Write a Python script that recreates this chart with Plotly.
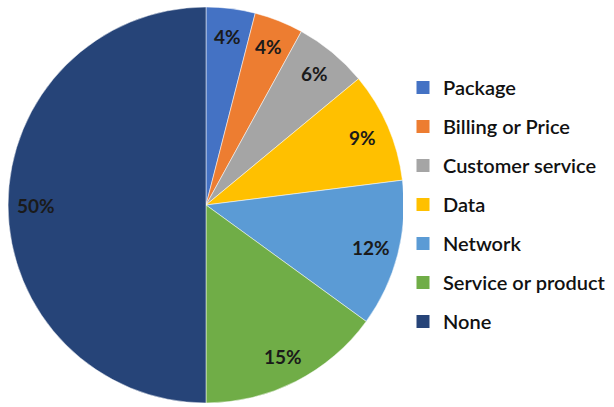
import math
import plotly.graph_objects as go

categories = ["Package", "Billing or Price", "Customer service", "Data",
              "Network", "Service or product", "None"]
values = [4, 4, 6, 9, 12, 15, 50]
colors = ["#4472C4", "#ED7D31", "#A5A5A5", "#FFC000", "#5B9BD5", "#70AD47", "#264478"]

W, H = 614, 407
px0, px1 = 8, 404      # pie domain in pixels (x)
py0, py1 = 4, 400      # pie domain in pixels (y from bottom)
FONT = "Lato"

fig = go.Figure()
fig.add_trace(go.Pie(
    labels=categories, values=values, sort=False, direction="clockwise",
    rotation=0, marker=dict(colors=colors, line=dict(color="white", width=0.5)),
    textinfo="none", showlegend=False, hoverinfo="label+percent",
    domain=dict(x=[px0 / W, px1 / W], y=[py0 / H, py1 / H]),
))

# Slice labels placed along each slice bisector (computed from the values)
total = sum(values)
cx = (px0 + px1) / 2 / W
cy = (py0 + py1) / 2 / H
r_px = (px1 - px0) / 2 * 0.86
cum = 0
for v in values:
    mid = (cum + v / 2) / total * 2 * math.pi
    cum += v
    fig.add_annotation(
        x=cx + r_px * math.sin(mid) / W, y=cy + r_px * math.cos(mid) / H,
        xref="paper", yref="paper", showarrow=False,
        xanchor="center", yanchor="middle",
        text=f"{round(v / total * 100)}%",
        font=dict(family=FONT, size=19, color="#1a1a1a", weight="bold"),
    )

# Legend entries
for name, col in zip(categories, colors):
    fig.add_trace(go.Scatter(
        x=[None], y=[None], mode="markers", name=name, legendgroup=name,
        marker=dict(symbol="square", size=13, color=col),
    ))

fig.update_layout(
    width=W, height=H, margin=dict(l=0, r=0, t=0, b=0),
    paper_bgcolor="white", plot_bgcolor="white",
    xaxis=dict(visible=False), yaxis=dict(visible=False),
    legend=dict(x=403 / W, y=1 - 68 / H, xanchor="left", yanchor="top",
                tracegroupgap=10, itemwidth=30,
                font=dict(family=FONT, size=20, color="#111111", weight=600)),
)

fig.write_html("out.html", config={"displayModeBar": False},
               post_script="document.body.style.margin='0';document.body.style.overflow='hidden';")
